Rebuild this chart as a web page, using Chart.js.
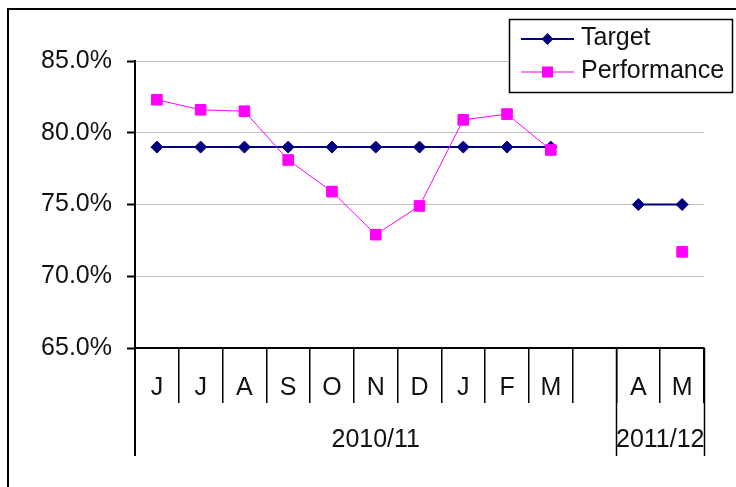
<!DOCTYPE html>
<html>
<head>
<meta charset="utf-8">
<script src="https://cdn.jsdelivr.net/npm/chart.js@4/dist/chart.umd.min.js"></script>
<style>
  html, body { margin: 0; padding: 0; background: #fff; }
  #chart { display: block; width: 736px; height: 487px; }
</style>
</head>
<body>
<canvas id="chart" width="736" height="487"></canvas>
<script>
const months = ['J', 'J', 'A', 'S', 'O', 'N', 'D', 'J', 'F', 'M', '', 'A', 'M']
const years = ['2010/11', '2011/12']
const yearSpans = [11, 2]
const target = [79, 79, 79, 79, 79, 79, 79, 79, 79, 79, null, 75, 75]
const performance = [82.3, 81.6, 81.5, 78.1, 75.9, 72.9, 74.9, 80.9, 81.3, 78.8, null, null, 71.7]
const yTicks = [65, 70, 75, 80, 85]

const FONT = "'Liberation Sans', Arial, sans-serif"
const FONT_SIZE = 25
const TEXT = '#111'
const NAVY = '#000080'
const PINK = '#ff00ff'

// year rows under the month labels, the outer frame and the legend box
const excelBits = {
    id: 'excelBits',
    afterDraw(chart) {
        const ctx = chart.ctx
        const x = chart.scales.x
        const area = chart.chartArea
        const drop = x.top + 108

        ctx.save()
        ctx.strokeStyle = '#000'
        ctx.lineWidth = 2
        ctx.beginPath()
        ctx.moveTo(area.left, area.bottom)
        ctx.lineTo(area.left, drop)
        ctx.stroke()

        ctx.font = FONT_SIZE + 'px ' + FONT
        ctx.fillStyle = TEXT
        ctx.textAlign = 'center'
        ctx.textBaseline = 'middle'
        let start = 0
        years.forEach((year, i) => {
            const end = start + yearSpans[i]
            const x0 = x.getPixelForValue(start - 0.5)
            const x1 = x.getPixelForValue(end - 0.5)
            ctx.lineWidth = 1.5
            ctx.beginPath()
            ctx.moveTo(Math.round(x1) + 0.5, x.top)
            ctx.lineTo(Math.round(x1) + 0.5, drop)
            ctx.stroke()
            ctx.fillText(year, (x0 + x1) / 2, x.top + 92)
            start = end
        })

        // legend
        const lx = 509, ly = 19, lw = 223, lh = 73
        ctx.fillStyle = '#fff'
        ctx.fillRect(lx, ly, lw, lh)
        ctx.lineWidth = 1.5
        ctx.strokeStyle = '#000'
        ctx.strokeRect(lx + 0.5, ly + 0.5, lw, lh)

        const rows = [
            {label: chart.data.datasets[0].label, y: 39, color: NAVY, width: 2, shape: 'diamond'},
            {label: chart.data.datasets[1].label, y: 72, color: PINK, width: 1, shape: 'square'}
        ]
        rows.forEach(r => {
            ctx.strokeStyle = r.color
            ctx.lineWidth = r.width
            ctx.beginPath()
            ctx.moveTo(521, r.y)
            ctx.lineTo(574, r.y)
            ctx.stroke()
            ctx.fillStyle = r.color
            ctx.beginPath()
            if (r.shape === 'diamond') {
                ctx.moveTo(547.5, r.y - 6)
                ctx.lineTo(553.5, r.y)
                ctx.lineTo(547.5, r.y + 6)
                ctx.lineTo(541.5, r.y)
                ctx.closePath()
                ctx.fill()
            } else {
                ctx.fillRect(542, r.y - 5.5, 11, 11)
            }
            ctx.fillStyle = TEXT
            ctx.font = FONT_SIZE + 'px ' + FONT
            ctx.textAlign = 'left'
            ctx.textBaseline = 'alphabetic'
            ctx.fillText(r.label, 581, r.y + 6)
        })

        // outer frame, running off the right and bottom edges
        ctx.strokeStyle = '#000'
        ctx.lineWidth = 2
        ctx.strokeRect(8, 9, 1000, 1000)
        ctx.restore()
    }
}

new Chart(document.getElementById('chart').getContext('2d'), {
    type: 'line',
    data: {
        labels: months,
        datasets: [{
            label: 'Target',
            data: target,
            order: 1,
            borderColor: NAVY,
            backgroundColor: NAVY,
            borderWidth: 2,
            pointStyle: 'rectRot',
            pointRadius: 6,
            pointBorderWidth: 1,
            tension: 0,
            spanGaps: false
        }, {
            label: 'Performance',
            data: performance,
            order: 0,
            borderColor: PINK,
            backgroundColor: PINK,
            borderWidth: 1,
            pointStyle: 'rect',
            pointRadius: 7.5,
            pointBorderWidth: 1,
            tension: 0,
            spanGaps: false
        }]
    },
    options: {
        responsive: false,
        animation: false,
        events: [],
        layout: {
            padding: {top: 61, right: 32, bottom: 0, left: 0}
        },
        plugins: {
            legend: {display: false},
            tooltip: {enabled: false}
        },
        scales: {
            x: {
                offset: true,
                afterFit: s => { s.height = 139 },
                ticks: {
                    autoSkip: false,
                    maxRotation: 0,
                    padding: -30,
                    color: TEXT,
                    font: {size: FONT_SIZE, family: FONT}
                },
                grid: {
                    offset: true,
                    drawOnChartArea: false,
                    tickLength: 55,
                    color: '#000',
                    lineWidth: 1.5
                },
                border: {color: '#000', width: 2}
            },
            y: {
                min: 65,
                max: 85,
                afterBuildTicks: s => { s.ticks = yTicks.map(v => ({value: v})) },
                afterFit: s => { s.width = 135 },
                ticks: {
                    padding: 15,
                    color: TEXT,
                    font: {size: FONT_SIZE, family: FONT},
                    callback: v => v.toFixed(1) + '%'
                },
                grid: {
                    color: c => (c.tick && c.tick.value === 65) ? 'rgba(0,0,0,0)' : '#c0c0c0',
                    tickColor: '#000',
                    tickLength: 8,
                    tickWidth: 2,
                    lineWidth: 1
                },
                border: {color: '#000', width: 2}
            }
        }
    },
    plugins: [excelBits]
})
</script>
</body>
</html>
